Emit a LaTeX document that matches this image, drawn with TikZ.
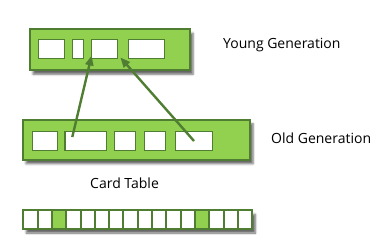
\documentclass[tikz,border=0pt]{standalone}
\usepackage{fontspec}
\setmainfont{Open Sans}
\usetikzlibrary{shadows.blur,arrows.meta}
\definecolor{gcfill}{HTML}{92D050}
\definecolor{gcline}{HTML}{4F7D32}

\begin{document}
\begin{tikzpicture}[x=1pt,y=-1pt,
  genbox/.style={draw=gcline, line width=2pt, fill=gcfill, inner sep=0pt,
    blur shadow={shadow xshift=3pt,shadow yshift=-4pt,shadow opacity=60}},
  objbox/.style={draw=gcline, line width=1.3pt, fill=white, inner sep=0pt, minimum height=19pt},
  cardcell/.style={draw=gcline, line width=2pt, fill=white, inner sep=0pt,
    minimum width=14.3pt, minimum height=18.7pt},
  ref/.style={draw=gcline, line width=2.4pt, -{Triangle[length=10pt,width=8pt]}},
  lbl/.style={font=\fontsize{14}{16}\selectfont, anchor=west, inner sep=0pt}]

  \useasboundingbox (0,0) rectangle (389,252);

  % young generation
  \node[genbox, minimum width=160pt, minimum height=41pt] (young) at (110,49.7) {};
  \node[objbox, minimum width=26pt]   (yb1) at (51.3,49.3) {};
  \node[objbox, minimum width=10.6pt] (yb2) at (78,49.3) {};
  \node[objbox, minimum width=26.4pt] (yb3) at (104.5,49.3) {};
  \node[objbox, minimum width=36.4pt] (yb4) at (146.5,49.3) {};
  \node[lbl] (younglbl) at (223,45) {Young Generation};

  % old generation
  \node[genbox, minimum width=227pt, minimum height=40pt] (old) at (136.5,139.8) {};
  \node[objbox, minimum width=25pt]   (ob1) at (44.8,141) {};
  \node[objbox, minimum width=41.7pt] (ob2) at (85.8,141) {};
  \node[objbox, minimum width=21.4pt] (ob3) at (125,141) {};
  \node[objbox, minimum width=21.4pt] (ob4) at (155,141) {};
  \node[objbox, minimum width=36.6pt] (ob5) at (194,141) {};
  \node[lbl] (oldlbl) at (271,138) {Old Generation};

  % old-to-young references
  \draw[ref] ([xshift=8pt,yshift=4pt]ob2.west) -- ([xshift=1pt,yshift=4pt]yb3.south west);
  \draw[ref] (ob5.center) -- ([xshift=2pt,yshift=2pt]yb3.south east);

  % card table
  \node[lbl] (cardlbl) at (90,183) {Card Table};
  \node[fill=white, inner sep=0pt, minimum width=229pt, minimum height=18.7pt,
    blur shadow={shadow xshift=3pt,shadow yshift=-4pt,shadow opacity=60}] (cards) at (137.8,219.7) {};
  \foreach \i in {1,...,16}
    \node[cardcell] (c\i) at ({23.3+(\i-0.5)*14.31},219.7) {};
  \foreach \i in {3,13}
    \node[cardcell, fill=gcfill] at (c\i) {};
\end{tikzpicture}
\end{document}
